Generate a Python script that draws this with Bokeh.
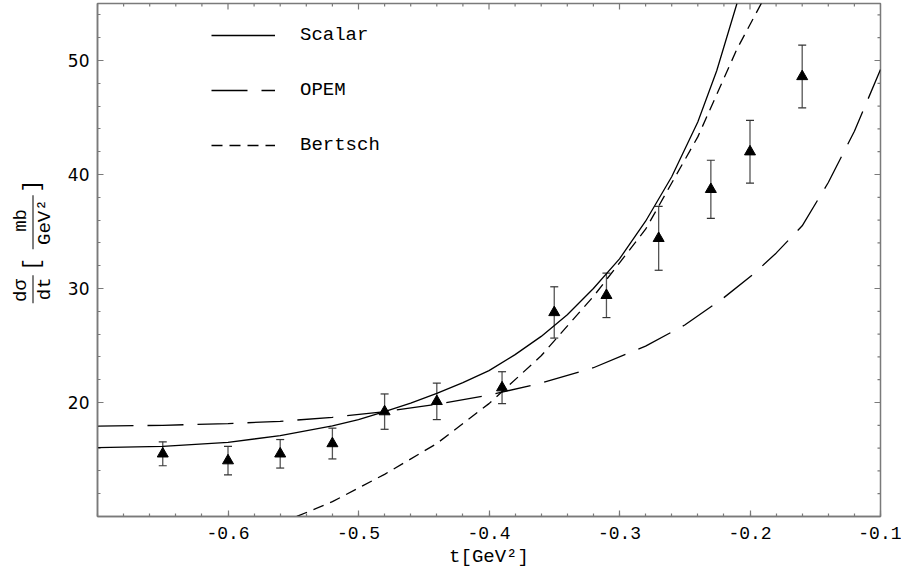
import numpy as np
from bokeh.plotting import figure
from bokeh.layouts import row
from bokeh.models import (Range1d, Whisker, TeeHead, ColumnDataSource,
                          Legend, LegendItem, Label, BoxAnnotation, FixedTicker)
from bokeh.embed import file_html
from bokeh.resources import INLINE

# ---------------- data ----------------
t_data = [-0.65, -0.60, -0.56, -0.52, -0.48, -0.44, -0.39, -0.35, -0.31, -0.27, -0.23, -0.20, -0.16]
dsdt = [15.5, 14.9, 15.5, 16.4, 19.2, 20.1, 21.3, 27.9, 29.4, 34.4, 38.7, 42.0, 48.6]
dsdt_err = [1.05, 1.25, 1.25, 1.35, 1.55, 1.6, 1.4, 2.25, 1.95, 2.8, 2.55, 2.75, 2.75]

scalar_t = [-0.70, -0.65, -0.60, -0.56, -0.52, -0.50, -0.48, -0.46, -0.44, -0.42, -0.40, -0.38,
            -0.36, -0.34, -0.32, -0.30, -0.28, -0.26, -0.24, -0.2255, -0.21]
scalar_y = [16.04, 16.15, 16.5, 17.1, 17.95, 18.5, 19.2, 19.95, 20.8, 21.75, 22.8, 24.2,
            25.8, 27.7, 30.0, 32.6, 35.9, 39.8, 44.6, 49.1, 55.0]

opem_t = [-0.70, -0.65, -0.60, -0.56, -0.52, -0.48, -0.44, -0.40, -0.36, -0.32, -0.28, -0.25,
          -0.22, -0.197, -0.18, -0.16, -0.14, -0.12, -0.10]
opem_y = [17.92, 18.0, 18.15, 18.35, 18.7, 19.2, 19.85, 20.65, 21.7, 23.05, 24.95, 26.8,
          29.2, 31.3, 33.1, 35.5, 39.3, 43.8, 49.2]

bertsch_t = [-0.56, -0.52, -0.48, -0.44, -0.40, -0.36, -0.32, -0.28, -0.24, -0.21, -0.19]
bertsch_y = [9.4, 11.3, 13.7, 16.4, 19.9, 24.1, 29.3, 35.2, 43.3, 51.0, 55.3]

x_min, x_max = -0.7, -0.1
y_min, y_max = 10, 55
x_ticks = [-0.6, -0.5, -0.4, -0.3, -0.2, -0.1]
x_tick_labels = ["-0.6", "-0.5", "-0.4", "-0.3", "-0.2", "-0.1"]
x_minor = [round(-0.70 + 0.02 * i, 2) for i in range(31)]
y_ticks = [20, 30, 40, 50]
y_tick_labels = ["20", "30", "40", "50"]
y_minor = [10 + 2 * i for i in range(23)]

# ---------------- main figure ----------------
FRAME = "#7a7a7a"
MONO = "Liberation Mono"
LABEL_W = 60

p = figure(width=901 - LABEL_W, height=570, x_range=Range1d(x_min, x_max), y_range=Range1d(y_min, y_max),
           output_backend="svg", toolbar_location=None,
           min_border_left=97 - LABEL_W, min_border_right=21, min_border_top=3, min_border_bottom=53)
p.xgrid.visible = False
p.ygrid.visible = False
p.outline_line_color = FRAME
p.outline_line_width = 1.5


def style(ax, ticks, minor, labels):
    ax.ticker = FixedTicker(ticks=ticks, minor_ticks=minor)
    ax.axis_line_color = FRAME
    ax.axis_line_width = 1.5
    ax.major_tick_line_color = FRAME
    ax.minor_tick_line_color = FRAME
    ax.major_tick_line_width = 1.2
    ax.minor_tick_line_width = 1.2
    ax.major_tick_in = 6
    ax.major_tick_out = 0
    ax.minor_tick_in = 3
    ax.minor_tick_out = 0
    ax.major_label_overrides = {tk: lb for tk, lb in zip(ticks, labels)}
    ax.major_label_text_color = "black"


style(p.xaxis[0], x_ticks, x_minor, x_tick_labels)
style(p.yaxis[0], y_ticks, y_minor, y_tick_labels)
p.xaxis[0].major_label_text_font = MONO
p.xaxis[0].major_label_text_font_size = "18px"
p.xaxis[0].major_label_standoff = 10
p.xaxis[0].axis_label = "t[GeV²]"
p.xaxis[0].axis_label_text_font = MONO
p.xaxis[0].axis_label_text_font_size = "19px"
p.xaxis[0].axis_label_text_font_style = "normal"
p.xaxis[0].axis_label_text_color = "black"
p.xaxis[0].axis_label_standoff = 4

p.yaxis[0].major_label_text_font = "DejaVu Sans"
p.yaxis[0].major_label_text_font_size = "17px"
p.yaxis[0].major_label_standoff = 8

# inward ticks on the top and right frame edges (half of each dash is clipped by the frame)
x_minor_only = [v for v in x_minor if all(abs(v - m) > 1e-9 for m in x_ticks)]
y_minor_only = [v for v in y_minor if v not in y_ticks]
p.scatter(x_ticks, [y_max] * len(x_ticks), marker="dash", angle=np.pi / 2, size=12,
          line_color=FRAME, line_width=1.2)
p.scatter(x_minor_only, [y_max] * len(x_minor_only), marker="dash", angle=np.pi / 2, size=6,
          line_color=FRAME, line_width=1.2)
p.scatter([x_max] * len(y_ticks), y_ticks, marker="dash", size=12,
          line_color=FRAME, line_width=1.2)
p.scatter([x_max] * len(y_minor_only), y_minor_only, marker="dash", size=6,
          line_color=FRAME, line_width=1.2)

# ---------------- curves ----------------
r_s = p.line(scalar_t, scalar_y, line_color="black", line_width=1.3)
r_o = p.line(opem_t, opem_y, line_color="black", line_width=1.3, line_dash="36 14")
r_b = p.line(bertsch_t, bertsch_y, line_color="black", line_width=1.3, line_dash="11 7")

# ---------------- data points ----------------
src = ColumnDataSource(dict(
    t=t_data, y=dsdt,
    upper=[v + e for v, e in zip(dsdt, dsdt_err)],
    lower=[v - e for v, e in zip(dsdt, dsdt_err)],
))
wh = Whisker(source=src, base="t", upper="upper", lower="lower",
             line_color="#555555", line_width=1.3,
             upper_head=TeeHead(size=8, line_color="#333333", line_width=1.2),
             lower_head=TeeHead(size=8, line_color="#333333", line_width=1.2))
p.add_layout(wh)
p.scatter("t", "y", source=src, marker="triangle", size=11, color="black")

# ---------------- legend ----------------
legend = Legend(items=[LegendItem(label="Scalar", renderers=[r_s]),
                       LegendItem(label="OPEM", renderers=[r_o]),
                       LegendItem(label="Bertsch", renderers=[r_b])],
                location=(114, 360), border_line_alpha=0, background_fill_alpha=0,
                glyph_width=64, glyph_height=20, label_height=20, spacing=33,
                padding=0, margin=0, label_standoff=25,
                label_text_font=MONO, label_text_font_size="19px", label_text_color="black")
p.add_layout(legend)

# ---------------- y axis label (fraction form), in a narrow side panel ----------------
H = 570
lab = figure(width=LABEL_W, height=H, x_range=Range1d(0, LABEL_W), y_range=Range1d(0, H),
             output_backend="svg", toolbar_location=None, min_border=0,
             x_axis_type=None, y_axis_type=None)
lab.outline_line_color = None


def ylab(text, x, y, size="19px"):
    lab.add_layout(Label(x=x, y=H - y, text=text, angle=np.pi / 2,
                         text_align="center", text_baseline="middle",
                         text_font=MONO, text_font_size=size, text_color="black"))


def frac_line(x, y0, y1):
    lab.add_layout(BoxAnnotation(left=x - 0.5, right=x + 0.5, bottom=H - y1, top=H - y0,
                                 fill_color="black", fill_alpha=1, line_alpha=0))


ylab("dσ", 20, 319)
ylab("dt", 44, 317)
frac_line(32.5, 302, 333)
ylab("[", 32, 290, "22px")
ylab("mb", 20, 241)
ylab("GeV²", 44, 243)
frac_line(32.5, 213, 273)
ylab("]", 32, 203, "22px")

open("out.html", "w").write(file_html(row(lab, p), INLINE))
